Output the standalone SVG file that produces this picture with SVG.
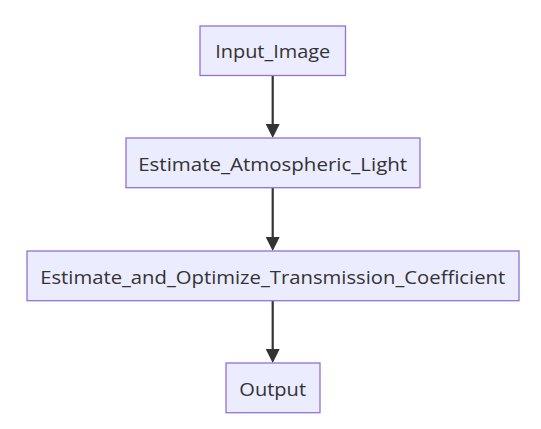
<svg xmlns="http://www.w3.org/2000/svg" width="541" height="429" viewBox="0 0 541 429">
<defs>
<style>
.node rect{fill:#ECECFF;stroke:#9370DB;stroke-width:1.3;}
.node text{font-family:"Open Sans","Noto Sans","Liberation Sans",sans-serif;font-size:19px;fill:#333;text-anchor:middle;}
.edge{stroke:#333;stroke-width:2.2;fill:none;}
.head{fill:#333;}
</style>
</defs>
<rect x="0" y="0" width="541" height="429" fill="#ffffff"/>
<g id="connectors">
<line class="edge" x1="272.7" y1="75.5" x2="272.7" y2="126"/>
<polygon class="head" points="265.7,124 279.7,124 272.7,138"/>
<line class="edge" x1="272.7" y1="188" x2="272.7" y2="239"/>
<polygon class="head" points="265.7,237 279.7,237 272.7,251"/>
<line class="edge" x1="272.7" y1="300.7" x2="272.7" y2="351"/>
<polygon class="head" points="265.7,349 279.7,349 272.7,363"/>
</g>
<g id="Input_Image" class="node">
<rect x="200" y="26" width="145.5" height="49.5"/>
<text x="272.7" y="58" textLength="115" lengthAdjust="spacingAndGlyphs">Input_Image</text>
</g>
<g id="Estimate_Atmospheric_Light" class="node">
<rect x="126" y="138" width="294" height="49.7"/>
<text x="272.7" y="170.5" textLength="269" lengthAdjust="spacingAndGlyphs">Estimate_Atmospheric_Light</text>
</g>
<g id="Estimate_and_Optimize_Transmission_Coefficient" class="node">
<rect x="27" y="251" width="492" height="49.7"/>
<text x="272.7" y="283.5" textLength="465" lengthAdjust="spacingAndGlyphs">Estimate_and_Optimize_Transmission_Coefficient</text>
</g>
<g id="Output" class="node">
<rect x="226" y="363" width="94" height="49.7"/>
<text x="272.7" y="395.5" textLength="66.7" lengthAdjust="spacingAndGlyphs">Output</text>
</g>
</svg>
